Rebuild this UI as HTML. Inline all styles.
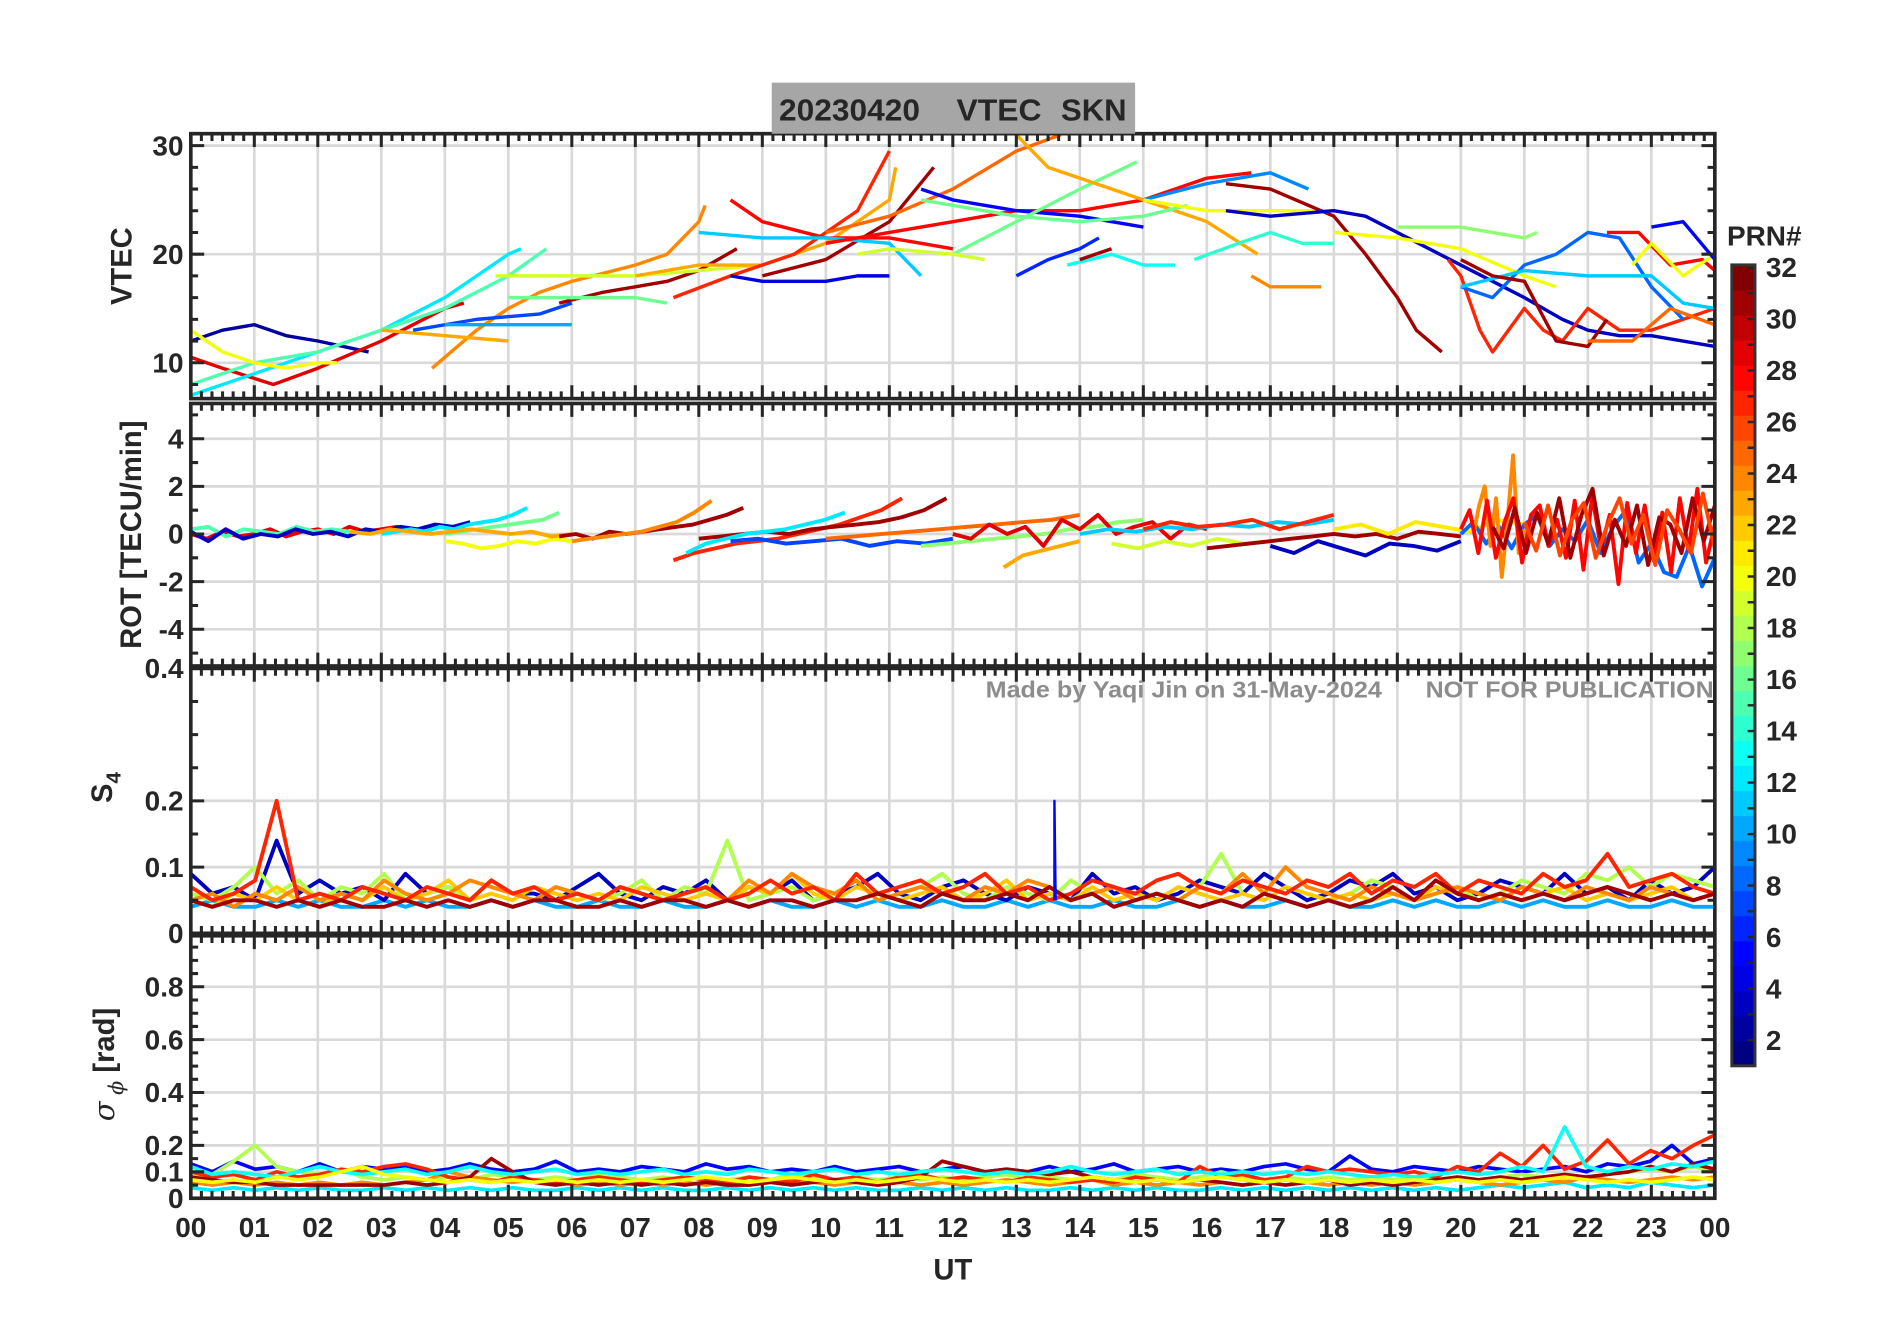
<!DOCTYPE html>
<html><head><meta charset="utf-8"><style>
html,body{margin:0;padding:0;background:#fff}
svg{display:block}
text{font-family:"Liberation Sans",Arial,sans-serif;font-weight:bold;fill:#262626}
</style></head><body>
<svg id="chart" width="1902" height="1330" viewBox="0 0 1565 1094.4" preserveAspectRatio="none" xmlns="http://www.w3.org/2000/svg">
<rect width="1565" height="1094.4" fill="#fff"/>
<g id="grid"></g>
<g id="series"></g>
<g id="axes"></g>
<g>
<rect x="635" y="68" width="299" height="42" fill="#a6a6a6"/>
<text x="641" y="99" font-size="25" textLength="116" lengthAdjust="spacingAndGlyphs" fill="#1a1a1a">20230420</text>
<text x="787" y="99" font-size="25" textLength="70" lengthAdjust="spacingAndGlyphs" fill="#1a1a1a">VTEC</text>
<text x="873" y="99" font-size="25" textLength="54" lengthAdjust="spacingAndGlyphs" fill="#1a1a1a">SKN</text>
</g>
<g>
<text x="811" y="574" font-size="19" style="fill:#8c8c8c" textLength="326" lengthAdjust="spacingAndGlyphs">Made by Yaqi Jin on 31-May-2024</text>
<text x="1173" y="574" font-size="19" style="fill:#8c8c8c" textLength="237" lengthAdjust="spacingAndGlyphs">NOT FOR PUBLICATION</text>
</g>
<text transform="translate(108,219) rotate(-90)" text-anchor="middle" font-size="24">VTEC</text>
<text transform="translate(116,440) rotate(-90)" text-anchor="middle" font-size="24">ROT [TECU/min]</text>
<text transform="translate(92,648) rotate(-90)" text-anchor="middle" font-size="24">S<tspan font-size="17" dy="7">4</tspan></text>
<text transform="translate(94,876) rotate(-90)" text-anchor="middle" font-size="24"><tspan font-family="DejaVu Serif,serif" font-style="italic" font-weight="normal">σ</tspan><tspan font-size="17" dy="7" font-family="DejaVu Serif,serif" font-style="italic" font-weight="normal"> ϕ</tspan><tspan dy="-7"> [rad]</tspan></text>
<text x="784" y="1053" text-anchor="middle" font-size="24">UT</text>
<g id="cbar"></g>
</svg>
<script>
// ---------- data ----------
const hourLabels=["00","01","02","03","04","05","06","07","08","09","10","11","12","13","14","15","16","17","18","19","20","21","22","23","00"];
const vtecTicks=[10,20,30];
const rotTicks=[-4,-2,0,2,4];
const s4Ticks=[0,0.1,0.2,0.4];
const sigTicks=[0,0.1,0.2,0.4,0.6,0.8];
const cbarTicks=[2,4,6,8,10,12,14,16,18,20,22,24,26,28,30,32];
const vtecPrn=[2,29,12,15,20,24,23,7,10,31,19,16,23,27,31,28,11,4,28,25,5,16,19,23,6,13,31,16,9,20,14,24,31,3,20,17,27,8,11,31,28,20,5,25];
const vtecTracks=[
[[0,12],[0.5,13],[1,13.5],[1.5,12.5],[2,12],[2.8,11]],
[[0,10.5],[0.5,9.5],[1.3,8],[2,9.5],[3,12],[4,15],[4.3,15.5]],
[[0,7],[1,9],[2,11],[3,13],[4,16],[5,20],[5.2,20.5]],
[[0,8],[1,10],[2,11],[3,13],[4,15],[5,18],[5.6,20.5]],
[[0,13],[0.5,11],[1,10],[1.5,9.5],[2,10],[2.3,10]],
[[3.8,9.5],[4.5,13],[5,15],[5.5,16.5],[6,17.5],[7,19],[7.5,20],[8,23],[8.1,24.5]],
[[3,13],[4,12.5],[5,12]],
[[3.5,13],[4.5,14],[5.5,14.5],[6,15.5]],
[[4,13.5],[5,13.5],[6,13.5]],
[[5.8,15.5],[6.5,16.5],[7,17],[7.5,17.5],[8,18.5],[8.6,20.5]],
[[4.8,18],[6,18],[7,18],[8,18.5],[9,19]],
[[5,16],[6,16],[7,16],[7.5,15.5]],
[[7,18],[8,19],[9,19],[10,21],[11,25],[11.1,28]],
[[7.6,16],[8.5,18],[9.5,20],[10.5,24],[11,29.5]],
[[9,18],[10,19.5],[11,23],[11.7,28]],
[[8.5,25],[9,23],[10,21.5],[11,21.5],[11.5,21],[12,20.5]],
[[8,22],[9,21.5],[10,21.5],[11,21],[11.5,18]],
[[8.5,18],[9,17.5],[9.5,17.5],[10,17.5],[10.5,18],[11,18]],
[[10,21],[11,22],[12,23],[13,24],[14,24],[15,25],[16,27],[16.7,27.5]],
[[10,22],[11,23.5],[12,26],[13,29.5],[13.7,31]],
[[11.5,26],[12,25],[13,24],[14,23.5],[15,22.5]],
[[12,20],[13,23],[14,26],[14.9,28.5]],
[[10.5,20],[11,20.5],[12,20],[12.5,19.5]],
[[13,31],[13.5,28],[14,27],[15,25],[16,23],[16.8,20]],
[[13,18],[13.5,19.5],[14,20.5],[14.3,21.5]],
[[13.8,19],[14.5,20],[15,19],[15.5,19]],
[[14,19.5],[14.5,20.5]],
[[11.5,25],[12,24.5],[13,23.5],[14,23],[15,23.5],[15.7,24.5]],
[[15,25],[16,26.5],[17,27.5],[17.6,26]],
[[15,25],[16,24],[17,24],[18,24]],
[[15.8,19.5],[16.5,21],[17,22],[17.5,21],[18,21]],
[[16.7,18],[17,17],[17.8,17]],
[[16.3,26.5],[17,26],[18,23.5],[18.5,20],[19,16],[19.3,13],[19.7,11]],
[[16.3,24],[17,23.5],[18,24],[18.5,23.5],[19,22],[20,19],[21,16],[21.6,14],[22,13],[22.5,12.5],[23,12.5],[24,11.5]],
[[18,22],[19,21.5],[20,20.5],[21,18],[21.5,17]],
[[19,22.5],[20,22.5],[21,21.5],[21.2,22]],
[[19.8,19.5],[20,18],[20.3,13],[20.5,11],[21,15],[21.3,13],[21.6,12],[22,15],[22.5,13],[23,13],[23.5,14],[24,15]],
[[20,17],[20.5,16],[21,19],[21.5,20],[22,22],[22.5,21.5],[23,17],[23.5,14]],
[[20,17],[21,18.5],[22,18],[23,18],[23.5,15.5],[24,15]],
[[20,19.5],[20.5,18],[21,17.5],[21.5,12],[22,11.5],[22.3,14]],
[[22.3,22],[22.8,22],[23.3,19],[23.8,19.5],[24,18.5]],
[[22.7,19],[23,21],[23.5,18],[24,20]],
[[23,22.5],[23.5,23],[24,19.5]],
[[22,12],[22.7,12],[23.3,15],[24,13.5]]
];
const rotPrn=[29,15,3,12,16,20,23,31,24,27,31,12,7,25,17,23,29,11,19,31,3,27,21,8,24,28,31,26];
const rotStart=[0,0,0,3,4,4,2.5,5.8,6,7.6,8,7.8,8.5,10,11.5,12.8,12,14,14.5,16,17,15,18,20,20.2,20,20.5,21];
const rotEnd=[3.5,2.5,4.4,5.3,5.8,6,6,8.7,8.2,11.2,11.9,10.3,12,14,15,14,16,18,17,20,20,18,21,24,21,24,24,24];
const rotVals=[
[0,-0.2,0.1,-0.1,0,0.2,-0.1,0.1,0.2,0,0.3,0.1,0.2,0.3,0.2],
[0.2,0.3,-0.1,0.2,0.1,0,0.3,0.1,0.2,0.1],
[0.1,-0.3,0.2,-0.2,0,-0.1,0.2,0,0.1,-0.1,0.2,0.1,0.3,0.2,0.4,0.3,0.5],
[0,0.1,0.2,0.1,0.3,0.2,0.4,0.5,0.6,0.8,1.1],
[0,0.1,0.2,0.3,0.4,0.5,0.6,0.9],
[-0.3,-0.4,-0.6,-0.5,-0.3,-0.4,-0.2,-0.3],
[0.1,0,0.2,0.1,0,0.1,0.2,0.1,0,0.1,-0.1,0],
[-0.1,0,-0.2,0.1,0,0.1,0.2,0.3,0.4,0.6,0.8,1.1],
[-0.3,-0.2,-0.1,0,0.1,0.3,0.5,0.9,1.4],
[-1.1,-0.8,-0.6,-0.4,-0.3,-0.2,0,0.2,0.4,0.7,1.0,1.5],
[-0.2,-0.1,0,0.1,0,0.2,0.3,0.4,0.5,0.7,1.0,1.5],
[-0.8,-0.4,-0.2,0,0.1,0.2,0.4,0.6,0.9],
[-0.3,-0.2,-0.4,-0.3,-0.2,-0.5,-0.3,-0.4,-0.2],
[-0.2,-0.1,0,0.1,0.2,0.3,0.4,0.5,0.6,0.8],
[-0.5,-0.4,-0.3,-0.2,-0.1,0,0.2,0.3,0.5,0.6],
[-1.4,-0.9,-0.7,-0.5,-0.3],
[0,-0.2,0.4,0,0.3,-0.5,0.6,0.2,0.8,0,0.3,0.5,-0.2,0.4,0.2],
[0,0.2,0.1,0.3,0.2,0.4,0.3,0.5,0.4,0.6],
[-0.4,-0.6,-0.3,-0.5,-0.2,-0.4,-0.3],
[-0.6,-0.5,-0.4,-0.3,-0.2,-0.1,0,-0.1,0,-0.2,0.1,0,-0.1],
[-0.5,-0.8,-0.3,-0.6,-0.9,-0.4,-0.5,-0.7,-0.3],
[0.2,0.5,0.3,0.4,0.6,0.2,0.5,0.8],
[0.2,0.4,0,0.5,0.3,0.1,0.6,0.4],
[0,0.5,-0.4,0.3,-0.6,0.4,0.8,-0.5,0.2,-0.3,0.6,-0.8,0.3,1,-1.2,-0.4,-1.6,-1.8,-0.5,-2.2,-1],
[0,1.2,2,-0.5,1.5,-1.8,0.5,3.3,-0.8,0.2],
[0.2,1,-0.8,1.4,-1,0.5,1.5,-1.2,0.8,1.2,-0.5,0.6,-1,1.4,-1.5,1.6,-0.6,0.8,-2.1,1.3,-0.8,1.2,-1.1,0.9,-1.6,1.5,-0.7,1.9,-1.2,0.4],
[0.3,-0.6,1.1,-0.8,0.9,-0.4,1.5,-1,0.8,1.9,-0.9,0.6,-0.5,1.2,-1.3,0.7,0.4,-0.8,1.5,-0.3,1.2],
[0.5,-0.7,1.2,-0.9,0.6,1.3,-1,0.4,1.5,-0.4,0.8,-1.3,1,0.2,-0.8,1.7,-0.6]
];
const s4Prn=[10,3,18,22,24,27,31];
const s4Vals=[
[0.04,0.05,0.04,0.04,0.05,0.04,0.05,0.04,0.04,0.05,0.04,0.05,0.04,0.04,0.05,0.04,0.05,0.04,0.04,0.05,0.04,0.04,0.05,0.04,0.04,0.05,0.04,0.05,0.04,0.04,0.05,0.04,0.05,0.04,0.04,0.05,0.04,0.04,0.05,0.04,0.05,0.04,0.04,0.05,0.04,0.04,0.05,0.04,0.05,0.04,0.04,0.05,0.04,0.05,0.04,0.04,0.05,0.04,0.05,0.04,0.04,0.05,0.04,0.05,0.04,0.04,0.05,0.04,0.04,0.05,0.04,0.04],
[0.09,0.06,0.07,0.05,0.14,0.06,0.08,0.06,0.07,0.05,0.09,0.06,0.07,0.05,0.08,0.06,0.06,0.05,0.07,0.09,0.06,0.05,0.07,0.06,0.08,0.05,0.07,0.06,0.08,0.05,0.06,0.07,0.09,0.06,0.05,0.07,0.08,0.06,0.05,0.07,0.06,0.05,0.09,0.06,0.07,0.05,0.06,0.08,0.07,0.06,0.09,0.07,0.05,0.06,0.08,0.07,0.09,0.06,0.07,0.05,0.06,0.08,0.07,0.06,0.09,0.06,0.07,0.05,0.08,0.06,0.07,0.1],
[0.06,0.05,0.07,0.1,0.06,0.08,0.05,0.07,0.06,0.09,0.05,0.06,0.07,0.05,0.08,0.06,0.05,0.07,0.06,0.05,0.06,0.08,0.05,0.07,0.06,0.14,0.05,0.06,0.07,0.05,0.06,0.08,0.05,0.06,0.07,0.09,0.06,0.05,0.07,0.06,0.05,0.08,0.06,0.07,0.05,0.06,0.05,0.07,0.12,0.06,0.05,0.07,0.06,0.05,0.06,0.08,0.07,0.05,0.06,0.07,0.05,0.06,0.08,0.07,0.06,0.09,0.08,0.1,0.07,0.09,0.08,0.07],
[0.05,0.04,0.06,0.05,0.07,0.05,0.04,0.06,0.05,0.07,0.05,0.06,0.08,0.05,0.06,0.05,0.07,0.06,0.05,0.06,0.05,0.07,0.06,0.05,0.06,0.05,0.07,0.06,0.09,0.06,0.05,0.07,0.06,0.05,0.06,0.07,0.05,0.06,0.08,0.05,0.06,0.05,0.07,0.05,0.06,0.05,0.07,0.06,0.05,0.06,0.05,0.07,0.06,0.05,0.06,0.05,0.06,0.05,0.07,0.06,0.05,0.06,0.05,0.06,0.07,0.05,0.06,0.05,0.06,0.07,0.05,0.06],
[0.05,0.06,0.04,0.06,0.05,0.07,0.05,0.06,0.05,0.08,0.06,0.05,0.06,0.08,0.07,0.06,0.05,0.07,0.06,0.05,0.07,0.06,0.05,0.06,0.07,0.05,0.08,0.06,0.09,0.07,0.06,0.08,0.05,0.06,0.07,0.06,0.05,0.07,0.06,0.08,0.07,0.05,0.06,0.07,0.05,0.06,0.05,0.07,0.06,0.09,0.06,0.1,0.07,0.06,0.05,0.07,0.06,0.05,0.06,0.07,0.06,0.05,0.07,0.06,0.05,0.07,0.06,0.05,0.07,0.06,0.05,0.06],
[0.07,0.05,0.06,0.08,0.2,0.05,0.06,0.05,0.07,0.06,0.05,0.07,0.06,0.05,0.08,0.06,0.07,0.05,0.06,0.05,0.07,0.06,0.05,0.06,0.07,0.05,0.06,0.08,0.06,0.07,0.05,0.09,0.06,0.07,0.08,0.06,0.07,0.09,0.06,0.07,0.05,0.06,0.08,0.07,0.06,0.08,0.09,0.07,0.06,0.08,0.07,0.06,0.08,0.07,0.09,0.06,0.08,0.07,0.09,0.06,0.08,0.07,0.06,0.09,0.07,0.08,0.12,0.07,0.08,0.09,0.07,0.06],
[0.05,0.04,0.05,0.05,0.04,0.05,0.04,0.05,0.04,0.04,0.05,0.04,0.05,0.04,0.05,0.04,0.05,0.05,0.04,0.04,0.05,0.04,0.05,0.05,0.04,0.05,0.04,0.05,0.05,0.04,0.05,0.05,0.06,0.05,0.04,0.06,0.05,0.05,0.06,0.05,0.07,0.05,0.06,0.04,0.05,0.06,0.05,0.04,0.05,0.04,0.06,0.05,0.04,0.05,0.04,0.05,0.07,0.05,0.08,0.06,0.05,0.06,0.05,0.06,0.05,0.06,0.07,0.06,0.05,0.06,0.05,0.06]
];
const s4SpikeHour=[13.6];
const s4SpikeVal=[0.2];
const s4SpikePrn=[5];
const sigPrn=[12,5,18,24,27,31,13,20];
const sigVals=[
[0.04,0.03,0.04,0.03,0.04,0.03,0.04,0.03,0.03,0.04,0.03,0.04,0.03,0.04,0.03,0.04,0.03,0.03,0.04,0.03,0.04,0.03,0.04,0.03,0.03,0.04,0.03,0.04,0.03,0.04,0.03,0.04,0.03,0.03,0.04,0.03,0.04,0.03,0.04,0.03,0.03,0.04,0.03,0.04,0.03,0.04,0.03,0.03,0.04,0.03,0.04,0.03,0.04,0.03,0.04,0.03,0.04,0.03,0.04,0.03,0.04,0.05,0.04,0.05,0.06,0.04,0.05,0.04,0.06,0.05,0.04,0.05],
[0.13,0.1,0.14,0.11,0.12,0.1,0.13,0.1,0.12,0.11,0.12,0.1,0.11,0.13,0.11,0.1,0.11,0.14,0.1,0.11,0.1,0.12,0.11,0.1,0.13,0.11,0.12,0.1,0.11,0.1,0.12,0.1,0.11,0.12,0.1,0.11,0.12,0.1,0.11,0.1,0.12,0.1,0.11,0.13,0.1,0.11,0.12,0.1,0.11,0.1,0.12,0.13,0.11,0.1,0.16,0.11,0.1,0.12,0.11,0.1,0.12,0.11,0.1,0.11,0.12,0.1,0.13,0.12,0.14,0.2,0.13,0.15],
[0.08,0.09,0.14,0.2,0.12,0.1,0.09,0.11,0.08,0.07,0.08,0.07,0.08,0.07,0.09,0.08,0.07,0.08,0.07,0.09,0.08,0.07,0.08,0.07,0.08,0.07,0.08,0.07,0.09,0.08,0.07,0.08,0.07,0.08,0.07,0.08,0.07,0.08,0.09,0.07,0.08,0.07,0.08,0.07,0.09,0.08,0.07,0.08,0.1,0.08,0.07,0.08,0.07,0.08,0.07,0.08,0.07,0.08,0.07,0.08,0.07,0.08,0.09,0.08,0.07,0.08,0.09,0.1,0.11,0.1,0.12,0.1],
[0.06,0.05,0.06,0.05,0.06,0.05,0.06,0.05,0.06,0.05,0.06,0.07,0.1,0.08,0.07,0.06,0.07,0.06,0.05,0.06,0.05,0.06,0.05,0.06,0.05,0.06,0.05,0.06,0.07,0.06,0.05,0.06,0.05,0.06,0.05,0.06,0.05,0.06,0.07,0.06,0.05,0.06,0.07,0.05,0.06,0.05,0.06,0.05,0.06,0.05,0.06,0.07,0.06,0.05,0.06,0.05,0.06,0.05,0.06,0.07,0.06,0.05,0.06,0.07,0.06,0.08,0.07,0.06,0.07,0.08,0.07,0.08],
[0.1,0.08,0.09,0.07,0.1,0.08,0.09,0.11,0.1,0.12,0.13,0.11,0.08,0.07,0.06,0.08,0.07,0.06,0.07,0.08,0.07,0.06,0.07,0.08,0.07,0.06,0.08,0.07,0.06,0.09,0.07,0.08,0.06,0.08,0.09,0.07,0.08,0.07,0.06,0.08,0.07,0.06,0.07,0.06,0.08,0.07,0.06,0.12,0.08,0.09,0.07,0.08,0.12,0.1,0.11,0.1,0.09,0.1,0.08,0.12,0.1,0.17,0.12,0.2,0.11,0.14,0.22,0.13,0.18,0.15,0.2,0.24],
[0.08,0.07,0.06,0.06,0.05,0.05,0.05,0.05,0.05,0.05,0.06,0.05,0.06,0.08,0.15,0.1,0.06,0.05,0.06,0.05,0.06,0.05,0.06,0.05,0.06,0.05,0.05,0.06,0.05,0.06,0.07,0.06,0.05,0.06,0.08,0.14,0.12,0.1,0.11,0.1,0.09,0.1,0.08,0.07,0.06,0.07,0.06,0.07,0.06,0.05,0.06,0.05,0.06,0.07,0.05,0.06,0.05,0.06,0.07,0.08,0.07,0.08,0.07,0.08,0.09,0.08,0.09,0.1,0.12,0.1,0.13,0.11],
[0.12,0.09,0.1,0.09,0.08,0.1,0.12,0.1,0.09,0.1,0.11,0.09,0.1,0.12,0.1,0.09,0.1,0.11,0.09,0.1,0.09,0.1,0.11,0.09,0.1,0.09,0.11,0.1,0.09,0.1,0.11,0.09,0.1,0.09,0.1,0.11,0.1,0.09,0.1,0.09,0.1,0.12,0.1,0.09,0.1,0.11,0.09,0.1,0.09,0.1,0.09,0.1,0.09,0.1,0.09,0.08,0.09,0.08,0.09,0.1,0.09,0.1,0.12,0.1,0.27,0.12,0.1,0.12,0.11,0.13,0.12,0.14],
[0.07,0.06,0.07,0.06,0.08,0.07,0.08,0.1,0.12,0.09,0.08,0.07,0.06,0.07,0.06,0.07,0.06,0.07,0.06,0.07,0.06,0.07,0.06,0.07,0.08,0.07,0.06,0.07,0.08,0.07,0.06,0.07,0.06,0.07,0.08,0.07,0.06,0.07,0.06,0.07,0.06,0.07,0.08,0.07,0.06,0.07,0.06,0.07,0.08,0.07,0.06,0.07,0.06,0.07,0.06,0.07,0.06,0.07,0.06,0.07,0.06,0.07,0.06,0.07,0.08,0.07,0.06,0.07,0.06,0.07,0.08,0.07]
];
// ---------- layout ----------
const X0=157,X1=1411;
const panels=[
 {name:'vtec',top:110,bot:328,min:6.7,max:31.1,ticks:vtecTicks,minor:2,fmt:v=>String(v)},
 {name:'rot',top:332,bot:548,min:-5.54,max:5.48,ticks:rotTicks,minor:1,fmt:v=>String(v)},
 {name:'s4',top:550,bot:768,min:0,max:0.4,ticks:s4Ticks,minor:0.05,fmt:v=>v===0?'0':String(v)},
 {name:'sigma',top:770,bot:986,min:0,max:0.993,ticks:sigTicks,minor:0.05,fmt:v=>v===0?'0':String(v)}
];
const NS='http://www.w3.org/2000/svg';
function el(tag,attrs,parent){const e=document.createElementNS(NS,tag);for(const k in attrs)e.setAttribute(k,attrs[k]);parent.appendChild(e);return e;}
const xs=h=>X0+(X1-X0)*h/24;
const ys=(p,v)=>p.bot-(v-p.min)/(p.max-p.min)*(p.bot-p.top);
function jet(prn){const t=(prn-1)/31;const c=x=>Math.round(255*Math.max(0,Math.min(1,x)));
 return `rgb(${c(1.5-Math.abs(4*t-3))},${c(1.5-Math.abs(4*t-2))},${c(1.5-Math.abs(4*t-1))})`;}
const svg=document.getElementById('chart');
const grid=document.getElementById('grid'),ser=document.getElementById('series'),axes=document.getElementById('axes');
const defs=el('defs',{},svg);
panels.forEach((p,i)=>{
 const cp=el('clipPath',{id:'clip'+i},defs);el('rect',{x:X0,y:p.top,width:X1-X0,height:p.bot-p.top},cp);
 for(let h=1;h<24;h++){const g=el('line',{x1:xs(h),x2:xs(h),y1:p.top,y2:p.bot,stroke:'#d9d9d9','stroke-width':2.2},grid);
  }
 p.ticks.forEach(v=>{if(v>p.min&&v<p.max-0.001){const g=el('line',{x1:X0,x2:X1,y1:ys(p,v),y2:ys(p,v),stroke:'#d9d9d9','stroke-width':2.2},grid);
  }});
 const f=el('rect',{x:X0,y:p.top,width:X1-X0,height:p.bot-p.top,fill:'none',stroke:'#262626','stroke-width':3},axes);
 
 let d='';
 for(let k=0;k<=144;k++){const x=xs(k/6);const L=k%6===0?11:6;d+=`M${x},${p.top}v${L}M${x},${p.bot}v${-L}`;}
 for(let v=Math.ceil(p.min/p.minor)*p.minor;v<=p.max;v+=p.minor){const y=ys(p,v);const maj=p.ticks.some(t=>Math.abs(t-v)<1e-6);const L=maj?11:6;d+=`M${X0},${y}h${L}M${X1},${y}h${-L}`;}
 const tk=el('path',{d:d,stroke:'#262626','stroke-width':2.5,fill:'none'},axes);
 
 p.ticks.forEach(v=>{const t=el('text',{x:X0-6,y:ys(p,v)+8,'text-anchor':'end','font-size':23},axes);t.textContent=p.fmt(v);
  });
 p.g=el('g',{'clip-path':`url(#clip${i})`},ser);
});
hourLabels.forEach((l,i)=>{const t=el('text',{x:xs(i),y:1018,'text-anchor':'middle','font-size':23},axes);t.textContent=l;
 });
function poly(p,pts,prn,w,name){const d=pts.map((q,i)=>(i?'L':'M')+xs(q[0]).toFixed(1)+','+ys(p,q[1]).toFixed(1)).join('');
 const e=el('path',{d:d,stroke:jet(prn),'stroke-width':w,fill:'none','stroke-linejoin':'round'},p.g);
 }
const even=(a,b,vals)=>vals.map((v,i)=>[a+(b-a)*i/(vals.length-1),v]);
vtecTracks.forEach((tr,i)=>poly(panels[0],tr,vtecPrn[i],2.8,'vtec-track-prn'+vtecPrn[i]));
rotVals.forEach((vals,i)=>poly(panels[1],even(rotStart[i],rotEnd[i],vals),rotPrn[i],3.2,'rot-track-prn'+rotPrn[i]));
s4Vals.forEach((vals,i)=>poly(panels[2],even(0,24,vals),s4Prn[i],3.2,'s4-series-prn'+s4Prn[i]));
s4SpikeHour.forEach((h,i)=>poly(panels[2],[[h,0.05],[h,s4SpikeVal[i]],[h+0.02,0.05]],s4SpikePrn[i],2,'s4-spike'));
sigVals.forEach((vals,i)=>poly(panels[3],even(0,24,vals),sigPrn[i],3,'sigma-series-prn'+sigPrn[i]));
const cb=document.getElementById('cbar');
const CB={x:1425,w:19,top:218,bot:877,min:1,max:32.1};
const cby=v=>CB.bot-(v-CB.min)/(CB.max-CB.min)*(CB.bot-CB.top);
const bandH=(CB.bot-CB.top)/32;
for(let k=1;k<=32;k++){const r=el('rect',{x:CB.x,y:CB.bot-k*bandH,width:CB.w,height:bandH+0.5,fill:jet(k)},cb);
 }
let cd='';for(let v=1;v<=32;v++){cd+=`M${CB.x+CB.w},${cby(v)}h-6`;}
el('path',{d:cd,stroke:'#262626','stroke-width':2},cb);
const fr=el('rect',{x:CB.x,y:CB.top,width:CB.w,height:CB.bot-CB.top,fill:'none',stroke:'#333','stroke-width':2.5},cb);

cbarTicks.forEach(v=>{const t=el('text',{x:1453,y:cby(v)+8,'font-size':23},cb);t.textContent=String(v);
 });
const pt=el('text',{x:1421,y:202,'font-size':23,fill:'#000'},cb);pt.textContent='PRN#';

</script>
</body></html>
